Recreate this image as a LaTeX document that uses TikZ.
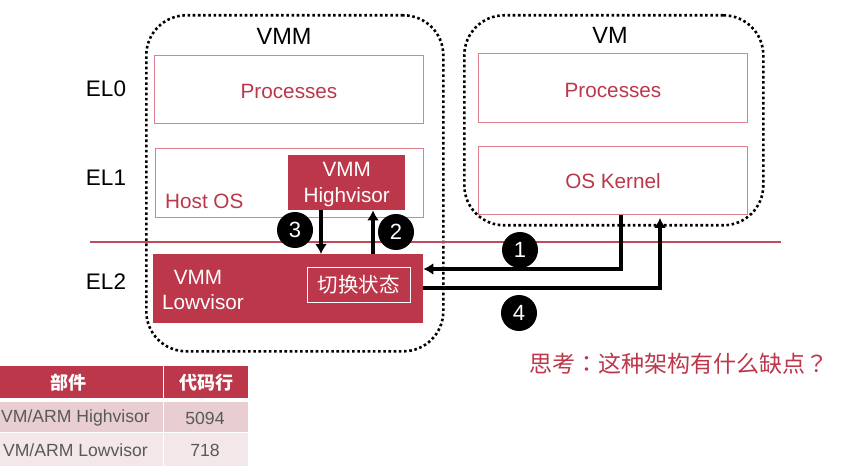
\documentclass[tikz,border=0pt]{standalone}
\usepackage{fontspec}
\setmainfont{Liberation Sans}
\newfontfamily\cjk{Noto Sans CJK SC}
\newfontfamily\cjkp{Noto Sans CJK TC}
\usetikzlibrary{arrows.meta,calc}
\definecolor{mainred}{HTML}{BC374A}
\definecolor{edgepink}{HTML}{DD7F8C}
\definecolor{rulered}{HTML}{C04A5A}
\definecolor{rowa}{HTML}{E8CDD1}
\definecolor{rowb}{HTML}{F4E7E9}
\definecolor{tabletext}{HTML}{595959}
\newcommand{\fs}[1]{\fontsize{#1}{#1}\selectfont}
\tikzset{
  x=1pt,y=-1pt,
  region/.style={draw=black,line width=2.6pt,dash pattern=on 2.6pt off 2.6pt,rounded corners=40pt,rectangle,inner sep=0pt,anchor=north west},
  outlinebox/.style={draw=edgepink,line width=1pt,fill=white,rectangle,inner sep=0pt,anchor=north west},
  solidbox/.style={fill=mainred,rectangle,inner sep=0pt,anchor=north west},
  redtext/.style={text=mainred,font=\fs{20.7},inner sep=0pt},
  whitetext/.style={text=white,font=\fs{20.7},align=center,inner sep=0pt},
  lvl/.style={text=black,font=\fs{22.5},inner sep=0pt},
  titletext/.style={text=black,font=\fs{23.5},inner sep=0pt},
  badge/.style={circle,fill=black,text=white,minimum size=36pt,inner sep=0pt,font=\fs{22}},
  flow/.style={draw=black,line width=3.2pt,-{Latex[length=10pt,width=12pt]}},
  cell/.style={rectangle,inner sep=0pt,anchor=north west},
  celltext/.style={text=tabletext,font=\fs{17.6},inner sep=0pt},
  headtext/.style={text=white,font=\cjk\bfseries\fs{18},inner sep=0pt},
}
\begin{document}
\begin{tikzpicture}
\useasboundingbox (0,0) rectangle (855,468);
\fill[white] (0,0) rectangle (855,468);
% regions
\node[region,minimum width=297pt,minimum height=336pt] (vmm) at (145,14) {};
\node[region,minimum width=299pt,minimum height=210pt] (vm) at (463,14) {};
\node[titletext] (vmmt) at (284,36) {VMM};
\node[titletext] (vmt) at (610,35) {VM};
% level labels
\node[lvl] (el0) at (106,89) {EL0};
\node[lvl] (el1) at (106,178) {EL1};
\node[lvl] (el2) at (106,282) {EL2};
% boxes
\node[outlinebox,minimum width=269pt,minimum height=68pt] (procA) at (154,55) {};
\node[redtext] at ($(procA.center)+(0,2)$) {Processes};
\node[outlinebox,minimum width=268pt,minimum height=69pt] (host) at (155,148) {};
\node[redtext,anchor=west] (hostt) at (165,201) {Host OS};
\node[solidbox,minimum width=117pt,minimum height=55pt] (high) at (288,155) {};
\node[whitetext] (hight) at ($(high.center)+(0,2)$) {VMM\\[5pt]Highvisor};
\node[outlinebox,minimum width=269pt,minimum height=69pt] (procB) at (478,53) {};
\node[redtext] at ($(procB.center)+(0,2)$) {Processes};
\node[outlinebox,minimum width=269pt,minimum height=68pt] (kern) at (478,146) {};
\node[redtext] at ($(kern.center)+(0,1)$) {OS Kernel};
% rule
\coordinate (ruleL) at (90,242);
\coordinate (ruleR) at (781,242);
\draw[rulered,line width=2.5pt] (ruleL) -- (ruleR);
% lowvisor
\node[solidbox,minimum width=270pt,minimum height=69pt] (low) at (153,254) {};
\node[whitetext] (lowa) at (198,277) {VMM};
\node[whitetext] (lowb) at (203,302) {Lowvisor};
\node[draw=white,line width=0.8pt,rectangle,inner sep=0pt,anchor=north west,minimum width=103pt,minimum height=35pt,text=white,font=\cjk\fs{20.5}] (sw) at (307,267) {切换状态};
% connectors
\coordinate (a3) at (321,0);
\coordinate (a2) at (373,0);
\coordinate (a1) at (621,0);
\coordinate (a4) at (660,0);
\coordinate (y1) at (0,269);
\coordinate (y4) at (0,288);
\coordinate (k4) at (660,218);
\draw[flow] (high.south -| a3) -- (low.north -| a3);
\draw[flow] (low.north -| a2) -- (high.south -| a2);
\draw[flow] (kern.south -| a1) -- (a1 |- y1) -- (low.east |- y1);
\draw[flow] (low.east |- y4) -- (a4 |- y4) -- (k4);
% badges
\node[badge] (b3) at (295,230) {3};
\node[badge] (b2) at (396,232) {2};
\node[badge] (b1) at (520,250) {1};
\node[badge] (b4) at (519,313) {4};
% thought
\node[text=mainred,font=\cjk\fs{23},inner sep=0pt] (q) at (679,364) {思考{\cjkp ：}这种架构有什么缺点{\cjkp ？}};
% table
\node[cell,fill=mainred,minimum width=163pt,minimum height=32pt] (h1) at (0,366) {};
\node[cell,fill=mainred,minimum width=84pt,minimum height=32pt] (h2) at (164,366) {};
\node[cell,fill=rowa,minimum width=163pt,minimum height=30pt] (r1a) at (0,402) {};
\node[cell,fill=rowa,minimum width=84pt,minimum height=30pt] (r1b) at (164,402) {};
\node[cell,fill=rowb,minimum width=163pt,minimum height=33pt] (r2a) at (0,433) {};
\node[cell,fill=rowb,minimum width=84pt,minimum height=33pt] (r2b) at (164,433) {};
\node[headtext] at (68,383) {部件};
\node[headtext] at (206,383) {代码行};
\node[celltext,anchor=east] at (150,418) {VM/ARM Highvisor};
\node[celltext] at (205,418) {5094};
\node[celltext,anchor=east] at (148,450) {VM/ARM Lowvisor};
\node[celltext] at (205,450) {718};
\end{tikzpicture}
\end{document}
